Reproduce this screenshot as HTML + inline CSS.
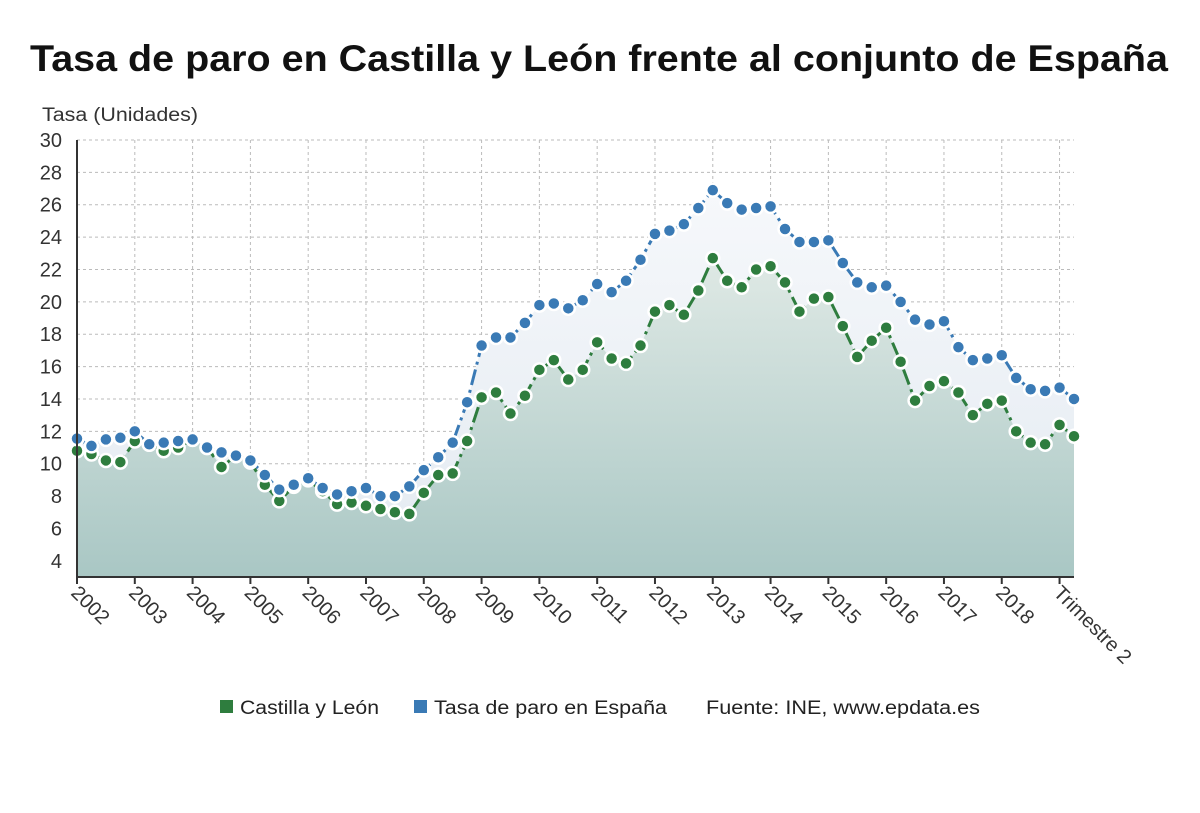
<!DOCTYPE html>
<html><head><meta charset="utf-8"><style>
body{margin:0;background:#fff;width:1200px;height:808px;overflow:hidden;font-family:"Liberation Sans",sans-serif}
</style></head><body>
<svg width="1200" height="808" id="svg" font-family="Liberation Sans, sans-serif">
<defs>
<linearGradient id="gg" x1="0" y1="0" x2="0" y2="1"><stop offset="0" stop-color="#dfe9e5"/><stop offset="1" stop-color="#a9c7c4"/></linearGradient>
<linearGradient id="bg" x1="0" y1="0" x2="0" y2="1"><stop offset="0" stop-color="#f6f8fb"/><stop offset="1" stop-color="#e3eaf1"/></linearGradient>
<clipPath id="clip"><rect x="0" y="0" width="1148" height="808"/></clipPath>
</defs>
<text x="30" y="71" font-size="37" font-weight="bold" fill="#111" textLength="1138" lengthAdjust="spacingAndGlyphs">Tasa de paro en Castilla y León frente al conjunto de España</text>
<text x="42" y="121" font-size="19" fill="#333" textLength="156" lengthAdjust="spacingAndGlyphs">Tasa (Unidades)</text>
<g id="grid"></g><g id="areas"></g><g id="lines"></g><g id="pts"></g><g id="axes" clip-path="url(#clip)"></g>
<g font-size="19" fill="#222">
<rect x="220" y="700" width="13" height="13" fill="#2e7d3e"/>
<text x="240" y="714" textLength="139" lengthAdjust="spacingAndGlyphs">Castilla y León</text>
<rect x="414" y="700" width="13" height="13" fill="#3a7ab5"/>
<text x="434" y="714" textLength="233" lengthAdjust="spacingAndGlyphs">Tasa de paro en España</text>
<text x="706" y="714" textLength="274" lengthAdjust="spacingAndGlyphs">Fuente: INE, www.epdata.es</text>
</g>
</svg>
<script>
const years=["2002","2003","2004","2005","2006","2007","2008","2009","2010","2011","2012","2013","2014","2015","2016","2017","2018","Trimestre 2"];
const yTicks=[4,6,8,10,12,14,16,18,20,22,24,26,28,30];
const espana=[11.55,11.1,11.5,11.6,12.0,11.2,11.3,11.4,11.5,11.0,10.7,10.5,10.2,9.3,8.4,8.7,9.1,8.5,8.1,8.3,8.5,8.0,8.0,8.6,9.6,10.4,11.3,13.8,17.3,17.8,17.8,18.7,19.8,19.9,19.6,20.1,21.1,20.6,21.3,22.6,24.2,24.4,24.8,25.8,26.9,26.1,25.7,25.8,25.9,24.5,23.7,23.7,23.8,22.4,21.2,20.9,21.0,20.0,18.9,18.6,18.8,17.2,16.4,16.5,16.7,15.3,14.6,14.5,14.7,14.0];
const castilla=[10.8,10.6,10.2,10.1,11.4,11.2,10.8,11.0,11.5,11.0,9.8,10.5,10.1,8.7,7.7,8.6,9.0,8.3,7.5,7.6,7.4,7.2,7.0,6.9,8.2,9.3,9.4,11.4,14.1,14.4,13.1,14.2,15.8,16.4,15.2,15.8,17.5,16.5,16.2,17.3,19.4,19.8,19.2,20.7,22.7,21.3,20.9,22.0,22.2,21.2,19.4,20.2,20.3,18.5,16.6,17.6,18.4,16.3,13.9,14.8,15.1,14.4,13.0,13.7,13.9,12.0,11.3,11.2,12.4,11.7];
const NS="http://www.w3.org/2000/svg";
const x0=77,x1=1074,yTop=140,yBot=577,vMin=3,vMax=30;
const n=espana.length;
const X=i=>x0+i*(x1-x0)/(n-1);
const Y=v=>yTop+(vMax-v)*(yBot-yTop)/(vMax-vMin);
function mk(tag,attrs,parent){const e=document.createElementNS(NS,tag);for(const k in attrs)e.setAttribute(k,attrs[k]);document.getElementById(parent).appendChild(e);return e;}
yTicks.forEach(v=>{
 const l=mk('line',{x1:x0,x2:x1,y1:Y(v),y2:Y(v),stroke:'#bbb','stroke-dasharray':'3,3'},'grid');
 
 
 const t=mk('text',{x:62,y:Y(v)+7,'text-anchor':'end','font-size':20,fill:'#333'},'axes');
 t.textContent=v;
 
 
});
years.forEach((y,k)=>{
 const xi=X(k*4);
 const l=mk('line',{x1:xi,x2:xi,y1:yTop,y2:yBot,stroke:'#bbb','stroke-dasharray':'3,3'},'grid');
 
 
 mk('line',{x1:xi,x2:xi,y1:yBot,y2:yBot+7,stroke:'#333','stroke-width':2},'axes');
 const t=mk('text',{x:xi-7,y:yBot+17,'font-size':20,fill:'#333',transform:`rotate(45 ${xi-7} ${yBot+17})`},'axes');
 t.textContent=y;
 
 
});
mk('line',{x1:x0,x2:x0,y1:yTop,y2:yBot,stroke:'#333','stroke-width':2},'axes');
mk('line',{x1:x0,x2:x1,y1:yBot,y2:yBot,stroke:'#333','stroke-width':2},'axes');
function pts(a){return a.map((v,i)=>X(i)+','+Y(v)).join(' ');}
function area(a,fill,name){const p=mk('polygon',{points:pts(a)+` ${X(n-1)},${yBot} ${X(0)},${yBot}`,fill:fill},'areas');
 
 }
area(espana,'url(#bg)','area-espana');
area(castilla,'url(#gg)','area-castilla');
function line(a,c,name){const p=mk('polyline',{points:pts(a),fill:'none',stroke:c,'stroke-width':3,'stroke-dasharray':'16,5,3,5'},'lines');
 
 
 a.forEach((v,i)=>{const c2=mk('circle',{cx:X(i),cy:Y(v),r:6.5,fill:c,stroke:'#fff','stroke-width':2.5},'pts');
  
  });}
line(castilla,'#2e7d3e','line-castilla');
line(espana,'#3a7ab5','line-espana');
</script>
</body></html>
